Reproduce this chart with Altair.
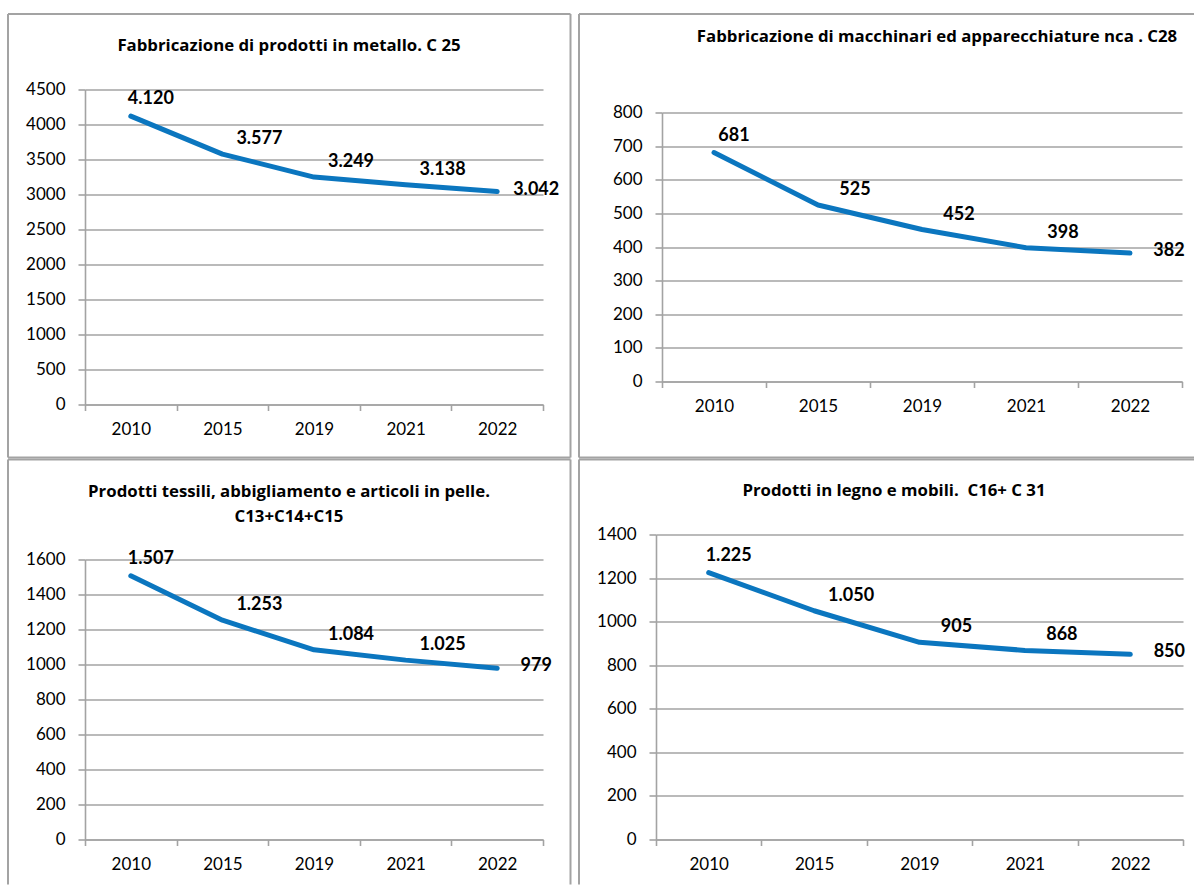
import altair as alt
import pandas as pd

# Anni e valori (numero di imprese) per ciascun comparto
anni = ["2010", "2015", "2019", "2021", "2022"]
metallo = [4120, 3577, 3249, 3138, 3042]
macchinari = [681, 525, 452, 398, 382]
tessili = [1507, 1253, 1084, 1025, 979]
legno = [1225, 1050, 905, 868, 850]

titolo_metallo = ["Fabbricazione di prodotti in metallo. C 25"]
titolo_macchinari = ["Fabbricazione di macchinari ed apparecchiature nca . C28"]
titolo_tessili = ["Prodotti tessili, abbigliamento e articoli in pelle.", "C13+C14+C15"]
titolo_legno = ["Prodotti in legno e mobili.\u00a0 C16+ C 31"]

BLU = "#0b76bf"
GRIGIO = "#a3a3a3"
FONT = "Lato"
FONT_TITOLO = "Open Sans"


def etichetta(v):
    # separatore delle migliaia all'italiana: 4120 -> "4.120"
    return f"{v:,}".replace(",", ".")


def bordo(x1, y1, x2, y2):
    return alt.Chart(pd.DataFrame({"k": [0]})).mark_rule(
        color=GRIGIO, strokeWidth=2
    ).encode(x=alt.value(x1), x2=alt.value(x2), y=alt.value(y1), y2=alt.value(y2))


def pannello(valori, righe_titolo, ymax, passo, w, h, ytop, tx, ty, bordi):
    df = pd.DataFrame({
        "anno": anni,
        "valore": valori,
        "etichetta": [etichetta(v) for v in valori],
        "pos": ["first"] + ["mid"] * (len(valori) - 2) + ["last"],
    })
    base = alt.Chart(df)
    x = alt.X(
        "anno:O", sort=anni, title=None,
        scale=alt.Scale(type="band", paddingInner=0, paddingOuter=0),
        axis=alt.Axis(labelAngle=0, tickBand="extent", grid=False, tickSize=6,
                      labelPadding=11),
    )
    # l'area dei dati occupa la vista da ytop fino al fondo
    y = alt.Y(
        "valore:Q", title=None,
        scale=alt.Scale(domain=[0, ymax], nice=False, range=[h, ytop]),
        axis=alt.Axis(values=list(range(0, ymax + 1, passo)), grid=True,
                      format="d", tickSize=7, labelPadding=13),
    )
    linea = base.mark_line(color=BLU, strokeWidth=5, strokeCap="round",
                           strokeJoin="round").encode(x=x, y=y)
    scost = {"first": (20, -17), "mid": (37, -15), "last": (39, -2)}
    testi = [
        base.transform_filter(alt.datum.pos == p).mark_text(
            dx=dx, dy=dy, font=FONT, fontSize=18, fontWeight="bold",
            color="#000000", align="center", baseline="middle",
        ).encode(x=x, y=y, text="etichetta:N")
        for p, (dx, dy) in scost.items()
    ]
    titoli = [
        alt.Chart(pd.DataFrame({"t": [riga]})).mark_text(
            font=FONT_TITOLO, fontSize=16.8, fontWeight="bold", color="#000000",
            align="center", baseline="alphabetic",
        ).encode(x=alt.value(tx), y=alt.value(ty + 24.5 * i), text="t:N")
        for i, riga in enumerate(righe_titolo)
    ]
    cornice = [bordo(*b) for b in bordi]
    return alt.layer(*cornice, linea, *testi, *titoli).properties(width=w, height=h)


p1 = pannello(metallo, titolo_metallo, 4500, 500, 458, 315, 0, 204, -38.5,
              [(-77, -75.5, 485.5, -75.5), (-77, 368, 485.5, 368),
               (-77, -75.5, -77, 368), (485.5, -75.5, 485.5, 368)])
p2 = pannello(macchinari, titolo_macchinari, 800, 100, 520, 292, 23, 275, -47.5,
              [(-83, -75.5, 532, -75.5), (-83, 368, 532, 368),
               (-83, -75.5, -83, 368)])
p3 = pannello(tessili, titolo_tessili, 1600, 200, 458, 305, 25, 204, -37.5,
              [(-77, -75, 485.5, -75), (-77, -75, -77, 350),
               (485.5, -75, 485.5, 350)])
p4 = pannello(legno, titolo_legno, 1400, 200, 527, 305, 0, 238, -38.5,
              [(-77, -75, 538, -75), (-77, -75, -77, 350)])

chart = alt.vconcat(
    alt.hconcat(p1, p2, spacing=6),
    alt.hconcat(p3, p4, spacing=6),
    spacing=0,
).properties(
    padding={"left": 7, "top": 12.5, "right": 0, "bottom": 0},
    background="white",
).configure_view(stroke=None).configure_axis(
    labelFont=FONT, labelFontSize=17, labelColor="#000000",
    domainColor=GRIGIO, domainWidth=1.6, tickColor=GRIGIO, tickWidth=1.6,
    gridColor=GRIGIO, gridWidth=1.6,
)

chart.save("out.html", embed_options={"renderer": "svg", "actions": False})
